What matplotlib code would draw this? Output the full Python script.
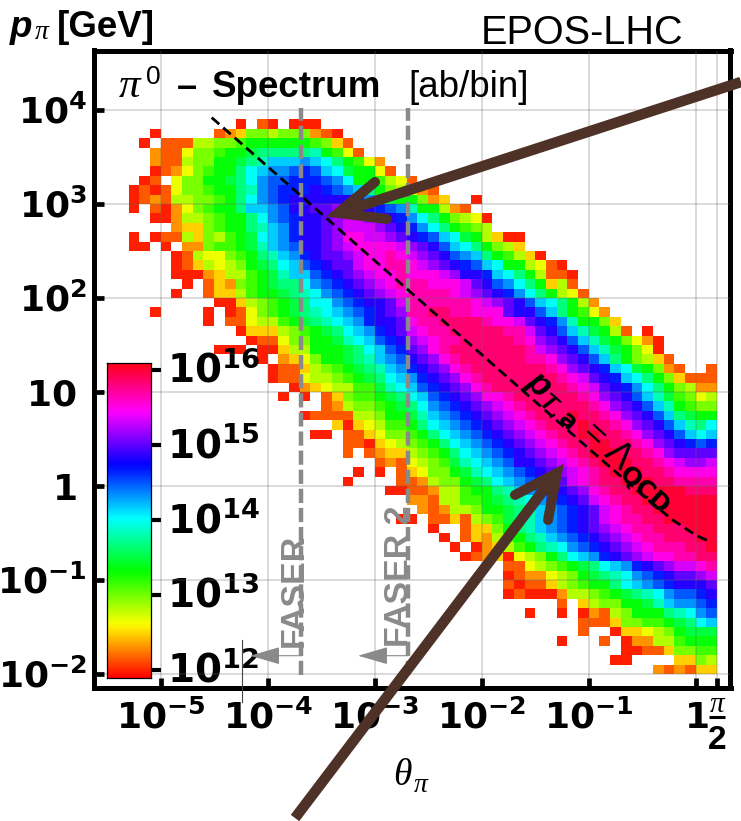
import numpy as np
import matplotlib
matplotlib.use('Agg')
import matplotlib.pyplot as plt
from matplotlib.colors import Normalize

plt.rcParams['font.family'] = ['Liberation Sans', 'DejaVu Sans']
plt.rcParams['mathtext.fontset'] = 'custom'
plt.rcParams['mathtext.rm'] = 'Liberation Sans Narrow'
plt.rcParams['mathtext.bf'] = 'Liberation Sans Narrow:bold'
plt.rcParams['mathtext.it'] = 'Liberation Sans:italic'
plt.rcParams['mathtext.bfit'] = 'Liberation Sans:italic:bold'

# bin edges of the histogram, log10 units
theta_edges_log = [round(-5.3 + 0.1 * i, 1) for i in range(56)]
p_edges_log = [round(3.9 - 0.1 * i, 1) for i in range(60)]

# one letter per bin, a = lowest colour band ... y = highest, . = empty
levels = 'abcdefghijklmnopqrstuvwxy'
log_min = 11.89
log_max = 16.09

cells = [
    '..... ..... a.ba. aaa.. ..... ..... ..... ..... ..... ..... .....',
    '..a.. ...bc dggfg ggcba ..... ..... ..... ..... ..... ..... .....',
    '.a.bb bffgg hiiii iihgd b.... ..... ..... ..... ..... ..... .....',
    '..cbb egghi ijkkk kklih eb... ..... ..... ..... ..... ..... .....',
    '..cbb fggii jklnn nonmk ihec. ..... ..... ..... ..... ..... .....',
    '..abc eghii kmnoo pqpnm jiieb ..... ..... ..... ..... ..... .....',
    '.ab.e ggiij kmopp qqqpo miihf eb... ..... ..... ..... ..... .....',
    'ababe gghii klopq qqrqp onkig fecb. ..... ..... ..... ..... .....',
    'abcbf fgghi kmopq rrrrr rqomj iigcd ..a.. ..... ..... ..... .....',
    'a.bac eghii knnop rrsst srrqp oliif cb... ..... ..... ..... .....',
    '..aac ffghi ikmop qrrst uutsr qomki gfea. ..... ..... ..... .....',
    '....c ddghi iklno qrrst uuuts rqomk ihgf. ..... ..... ..... .....',
    'a.abb fdgfh ijmno qrrst vvuut srqpn mjifd aa... ..... ..... .....',
    'aa.a. ccghh ijlno prrst uvvvv utsrp nmkig fd... ..... ..... .....',
    '....a bfeeg hikln oqrss tuvvw vutsr ponki hfda. ..... ..... .....',
    '....a bdfef gijkm npqrs suvvw wvuts rqpnm iifeb a.... ..... .....',
    '....a aacdf fhijl nnpqr stuvv wvvvu trrqn mkifb ba... ..... .....',
    '..... a.bdc ghijk kmopq rstuv wwwvv vusrp omkid fb... ..... .....',
    '....a ..bdd fhiij klmop qrstu vwwww vutsr qomki feb.. ..... .....',
    '..... ...aa dfghi jkmmo pqrrs uwwww wwvut srpnm kifc. ..... .....',
    '..a.. ..a.a beghi jklmn opqrs twwxx wwvvv srrpn kihec ..... .....',
    '..... ..a.b beffh ijklm noqrr svwwx xxxwv vusrq oliig d.... .....',
    '..... ..... adddf ghijk mnoqr suvww xxxxx wwusr pnlji fb.a. .....',
    '..... ..... .abbe ggiij lmnpq rtuvw wxxxx xwvts rpnlj igeca .....',
    '..... ...aa a.aad ffiii jkmnp qstvw xxxxx xxwut srpnl jigea .....',
    '..... ..... ..a.c degii jklno prstv wxxxx xxwwv tsrpn kigfd b....',
    '..... ..... ...ab bdfgh ijkln oqrst vwxxx xxxxw vtsrq nmjig cb..b',
    '..... ..... ...ab beffg hijkm noqrs tvwxx xxxxx wvusr qnmki gdbbb',
    '..... ..... ..... acdef fhhjl mnpqr stvwx xxxxx xwvus rqomk igfcc',
    '..... ..... ....a .a.bd ghhij kmnpq rstvv wxxxx xxwvt srpnl jhgef',
    '..... ..... ..... ...bc fgghi jkmop qrstu vwxxx xxxwv tsrpn lihgg',
    '..... ..... ..... .abbb bffgi ijlno pqrst uvwxx xyxxw vtsrp nkjii',
    '..... ..... ..... ....d adefh hikmn opqrs tuvwx xxyxx wvtsr pnlkm',
    '..... ..... ..... ..aa. bbdeg ghikm nopqr stuvw xxyyx xwvts rpnmn',
    '..... ..... ..... ..... bbade fghik mnopq rstuv wxxyy xxwvt srqpq',
    '..... ..... ..... ..... b.bcd dfghi kmnop qrstu vwxyy yxxwv tssss',
    '..... ..... ..... ..... ...bc befgh jlmno prrst uvwxy yyxxw vuttu',
    '..... ..... ..... ..... .a.a. bdegg ijlmn opqrs tuvwx yyyxx wvvvv',
    '..... ..... ..... ..... a.... bbcfg gijkm nopqr suvwx xyyyx xwwww',
    '..... ..... ..... ..... ....a abbcf fhiik lnopq rstvw xxyyy yyxxx',
    '..... ..... ..... ..... ..... .ccbf fhhij klmop qrsuv wxxyy yyyyy',
    '..... ..... ..... ..... ..... ..cbc ffgii jklno pqrsu vwxxy yyyyy',
    '..... ..... ..... ..... ..... aa.bb dbfgh jklno pqrsu vwwxx yyyyy',
    '..... ..... ..... ..... ..... ...a. .bddg iklno pqrst uvwwx xxyyy',
    '..... ..... ..... ..... ..... ....a .bdcf hikln opqrs tuvww xxxyy',
    '..... ..... ..... ..... ..... ..... a.acd fhikl mopqr stuvw wwxxy',
    '..... ..... ..... ..... ..... ..... .abcd aefgi kmnoq rstuv vwwxx',
    '..... ..... ..... ..... ..... ..... ..... bbefg hijkm noqrs tuuvw',
    '..... ..... ..... ..... ..... ..... ..... abcce fgijk lmopq rsstu',
    '..... ..... ..... ..... ..... ..... ..... babbd fghii kmnop qrrrs',
    '..... ..... ..... ..... ..... ..... ..... abaaa cffgh ijklm oppqr',
    '..... ..... ..... ..... ..... ..... ..... ..... b.dfg giijl noopq',
    '..... ..... ..... ..... ..... ..... ..... ..a.. a.acb fgiii klmop',
    '..... ..... ..... ..... ..... ..... ..... ..... ..bbb dgghh ijkmn',
    '..... ..... ..... ..... ..... ..... ..... ..... ..b.. addef gijjj',
    '..... ..... ..... ..... ..... ..... ..... ..... a...b .accf fhiii',
    '..... ..... ..... ..... ..... ..... ..... ..... ..... .aabb dgghh',
    '..... ..... ..... ..... ..... ..... ..... ..... ..... aa... .ddgf',
    '..... ..... ..... ..... ..... ..... ..... ..... ..... ....c bcbdd',
]

# detector edges and the pT = Lambda_QCD curve
faser_theta = [2.06e-4, 2.06e-3]
faser_p = [0.0098, 10500]
curve_theta = [3.0e-5, 1e-4, 1e-3, 1e-2, 1e-1, 0.3, 0.6, 1.0, 1.36]
curve_p = [8300, 2500, 250, 25, 2.5, 0.85, 0.44, 0.30, 0.255]

x_ticks = [1e-5, 1e-4, 1e-3, 1e-2, 1e-1, 1, np.pi / 2]
x_labels = ['-5', '-4', '-3', '-2', '-1']
y_ticks = [1e-2, 1e-1, 1, 10, 1e2, 1e3, 1e4]
y_labels = [r'$\mathbf{10^{-2}}$', r'$\mathbf{10^{-1}}$', r'$\mathbf{1}$', r'$\mathbf{10}$',
            r'$\mathbf{10^{2}}$', r'$\mathbf{10^{3}}$', r'$\mathbf{10^{4}}$']
cbar_ticks = [12, 13, 14, 15, 16]

W, H = 741, 821
brown = '#4e3228'
grey = '#8a8a8a'


def decode_cells(rows):
    data = np.full((len(rows), 55), np.nan)
    for i, row in enumerate(rows):
        for j, ch in enumerate(row.replace(' ', '')):
            if ch != '.':
                hue = (levels.index(ch) + 0.5) / len(levels)
                data[i, j] = log_min + hue * (log_max - log_min)
    return data


fig = plt.figure(figsize=(W / 100, H / 100), dpi=100)
ax = fig.add_axes([94 / W, 1 - 687.5 / H, 636.5 / W, 637 / H])
norm = Normalize(log_min, log_max)

ax.pcolormesh(10.0 ** np.array(theta_edges_log), 10.0 ** np.array(p_edges_log), decode_cells(cells),
              cmap='hsv', norm=norm, shading='flat', antialiased=False, linewidth=0)
ax.set_xscale('log')
ax.set_yscale('log')
ax.set_xlim(10 ** -5.623, 10 ** 0.325)
ax.set_ylim(10 ** -2.144, 10 ** 4.633)
ax.set_xticks(x_ticks)
ax.set_yticks(y_ticks)
ax.minorticks_off()
ax.set_axisbelow(False)
ax.grid(True, color='#666666', alpha=0.3, linewidth=1.1)
ax.tick_params(direction='in', length=7, width=3.4, top=False, right=False,
               labelbottom=False, labelleft=False)
for spine in ax.spines.values():
    spine.set_linewidth(3.6)

for t in faser_theta:
    ax.plot([t, t], faser_p, color=grey, lw=3.2, linestyle=(0, (3.2, 1.1)), zorder=3)
ax.plot(curve_theta, curve_p, color='black', lw=2, linestyle=(0, (3.6, 1.9)), zorder=3)

# tick labels
for y, lab in zip(y_ticks, y_labels):
    right = -7 if y not in (1, 10) else -17
    ax.annotate(lab, xy=(0, y), xycoords=ax.get_yaxis_transform(), xytext=(right, -14),
                textcoords='offset pixels', ha='right', va='baseline', fontsize=26, annotation_clip=False)
for t, e in zip(x_ticks[:5], x_labels):
    ax.annotate(r'$\mathbf{10^{%s}}$' % e, xy=(t, 0), xycoords=ax.get_xaxis_transform(), xytext=(0, -41),
                textcoords='offset pixels', ha='center', va='baseline', fontsize=26, annotation_clip=False)
ax.annotate(r'$\mathbf{1}$', xy=(1, 0), xycoords=ax.get_xaxis_transform(), xytext=(1, -41),
            textcoords='offset pixels', ha='center', va='baseline', fontsize=26, annotation_clip=False)

# colour bar
cax = fig.add_axes([107 / W, 1 - 678 / H, 44 / W, 315 / H])
gradient = np.linspace(log_min, log_max, 256).reshape(-1, 1)
cax.imshow(gradient, cmap='hsv', norm=norm, origin='lower', aspect='auto',
           extent=[0, 1, log_min, log_max])
cax.set_xticks([])
cax.yaxis.tick_right()
cax.set_yticks(cbar_ticks)
cax.set_yticklabels([])
cax.tick_params(direction='out', length=7.5, width=3)
for spine in cax.spines.values():
    spine.set_linewidth(0.9)
for v in cbar_ticks:
    ax.annotate(r'$\mathbf{10^{%d}}$' % v, xy=(1, v), xycoords=cax.get_yaxis_transform(), xytext=(16, -13),
                textcoords='offset pixels', ha='left', va='baseline', fontsize=28,
                annotation_clip=False, zorder=2)

# everything placed by hand on the page goes on an overlay in pixel units
over = fig.add_axes([0, 0, 1, 1], zorder=5)
over.set_xlim(0, W)
over.set_ylim(H, 0)
over.axis('off')

over.text(481, 44, 'EPOS-LHC', fontsize=28.5, va='baseline', ha='left')
over.text(10, 37, 'p', fontsize=26.5, style='italic', weight='bold', va='baseline')
over.text(35, 39, 'π', fontsize=20, style='italic', family='Liberation Serif', va='baseline')
over.text(57, 37, '[GeV]', fontsize=26.5, weight='bold', va='baseline')

over.text(119, 97, 'π', fontsize=31, style='italic', family='Liberation Serif', va='baseline')
over.text(146, 84, '0', fontsize=19, va='baseline')
over.text(177, 97, '–', fontsize=26, weight='bold', va='baseline')
over.text(212, 97, 'Spectrum', fontsize=26.5, weight='bold', va='baseline')
over.text(408, 97, '[ab/bin]', fontsize=26.5, va='baseline', weight='medium')

over.text(393, 785, 'θ', fontsize=27, style='italic', family='Liberation Serif', va='baseline')
over.text(414, 792, 'π', fontsize=20, style='italic', family='Liberation Serif', va='baseline')

over.text(717, 712, 'π', fontsize=21, style='italic', family='Liberation Serif', ha='center', va='baseline')
over.plot([709, 725], [717, 717], color='black', lw=2.2, solid_capstyle='butt')
over.text(717, 749, '2', fontsize=24, weight='bold', ha='center', va='baseline')

over.text(301, 648, 'FASER', fontsize=24, weight='bold', color=grey, rotation=90,
          ha='right', va='bottom', rotation_mode='anchor') if False else None
over.text(303, 647, 'FASER', fontsize=24.5, weight='bold', color=grey, rotation=90,
          ha='left', va='baseline', rotation_mode='anchor')
over.text(408, 647, 'FASER 2', fontsize=24.5, weight='bold', color=grey, rotation=90,
          ha='left', va='baseline', rotation_mode='anchor')
for x_from, x_to in [(302, 250), (408, 358)]:
    over.annotate('', xy=(x_to, 655.7), xytext=(x_from, 655.7),
                  arrowprops=dict(arrowstyle='-|>,head_length=19,head_width=5.5', mutation_scale=1,
                                  color=grey, lw=0.8, shrinkA=0, shrinkB=0))

over.text(600, 442, r'$\mathbfit{p}_{\mathbfit{T},\mathbf{a}}$ = $\Lambda_{\mathbf{QCD}}$', fontsize=25,
          rotation=-42, ha='center', va='center', rotation_mode='anchor')

over.plot([241.5, 241.5], [640, 702], color='#444444', lw=0.8)

# the two brown pointers
for shaft, barbs in [
    ([(741, 82), (345, 211)], [(375, 182), (338, 213), (387, 219)]),
    ([(295, 818), (552, 479)], [(515, 495), (557, 473), (548, 520)]),
]:
    over.plot(*zip(*shaft), color=brown, lw=7.6, solid_capstyle='butt')
    over.plot(*zip(*barbs), color=brown, lw=7.2, solid_capstyle='round', solid_joinstyle='miter')

fig.savefig('out.png', dpi=100)
